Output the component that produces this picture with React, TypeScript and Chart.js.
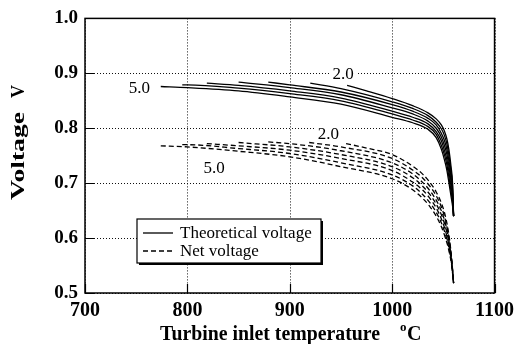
import React, { useEffect, useRef } from "react";
import { Chart, registerables } from "chart.js";

Chart.register(...registerables);

// ---- data ----
const X_TICK_LABELS = [700, 800, 900, 1000, 1100];
const Y_TICK_LABELS = [0.5, 0.6, 0.7, 0.8, 0.9, 1.0];

const SERIES_LABELS = ["2.0", "2.5", "3.0", "3.5", "4.0", "4.5", "5.0"];

// Theoretical voltage, [temperature °C, voltage V]
const THEO_2_0 = [[956, 0.878], [975, 0.868], [1000, 0.854], [1020, 0.841], [1035, 0.828], [1043, 0.817], [1048, 0.806], [1051, 0.795], [1053.5, 0.780], [1055.5, 0.760], [1057.5, 0.730], [1059, 0.700], [1060, 0.640]];
const THEO_2_5 = [[920, 0.882], [950, 0.872], [1000, 0.848], [1020, 0.836], [1035, 0.823], [1043, 0.811], [1048, 0.799], [1051, 0.787], [1053.5, 0.771], [1055.5, 0.750], [1057.5, 0.721], [1059, 0.693], [1060, 0.640]];
const THEO_3_0 = [[879, 0.884], [900, 0.879], [950, 0.866], [1000, 0.843], [1020, 0.831], [1035, 0.818], [1043, 0.806], [1048, 0.791], [1051, 0.778], [1053.5, 0.761], [1055.5, 0.740], [1057.5, 0.712], [1059, 0.686], [1060, 0.640]];
const THEO_3_5 = [[850, 0.884], [900, 0.874], [950, 0.861], [1000, 0.837], [1020, 0.826], [1035, 0.813], [1043, 0.800], [1048, 0.784], [1051, 0.769], [1053.5, 0.752], [1055.5, 0.730], [1057.5, 0.703], [1059, 0.679], [1060, 0.640]];
const THEO_4_0 = [[819, 0.882], [850, 0.878], [900, 0.868], [950, 0.855], [1000, 0.831], [1020, 0.820], [1035, 0.808], [1043, 0.794], [1048, 0.777], [1051, 0.760], [1053.5, 0.742], [1055.5, 0.720], [1057.5, 0.694], [1059, 0.672], [1060, 0.640]];
const THEO_4_5 = [[795, 0.879], [800, 0.879], [850, 0.873], [900, 0.863], [950, 0.850], [1000, 0.826], [1020, 0.815], [1035, 0.803], [1043, 0.789], [1048, 0.769], [1051, 0.752], [1053.5, 0.733], [1055.5, 0.710], [1057.5, 0.685], [1059, 0.665], [1060, 0.640]];
const THEO_5_0 = [[774, 0.876], [800, 0.874], [850, 0.868], [900, 0.857], [950, 0.844], [1000, 0.820], [1020, 0.810], [1035, 0.798], [1043, 0.783], [1048, 0.762], [1051, 0.743], [1053.5, 0.723], [1055.5, 0.700], [1057.5, 0.676], [1059, 0.658], [1060, 0.640]];

// Net voltage
const NET_2_0 = [[955, 0.772], [975, 0.764], [1000, 0.752], [1020, 0.731], [1030, 0.716], [1037, 0.701], [1043, 0.684], [1048, 0.664], [1051, 0.647], [1054, 0.622], [1056, 0.598], [1058, 0.565], [1060, 0.518]];
const NET_2_5 = [[919, 0.774], [950, 0.766], [1000, 0.745], [1020, 0.724], [1030, 0.709], [1037, 0.694], [1043, 0.677], [1048, 0.657], [1051, 0.640], [1054, 0.616], [1056, 0.594], [1058, 0.563], [1060, 0.518]];
const NET_3_0 = [[879, 0.775], [900, 0.772], [950, 0.759], [1000, 0.737], [1020, 0.717], [1030, 0.701], [1037, 0.686], [1043, 0.669], [1048, 0.650], [1051, 0.633], [1054, 0.611], [1056, 0.589], [1058, 0.561], [1060, 0.518]];
const NET_3_5 = [[850, 0.774], [900, 0.766], [950, 0.752], [1000, 0.730], [1020, 0.710], [1030, 0.694], [1037, 0.679], [1043, 0.662], [1048, 0.643], [1051, 0.627], [1054, 0.605], [1056, 0.585], [1058, 0.559], [1060, 0.518]];
const NET_4_0 = [[819, 0.772], [850, 0.768], [900, 0.760], [950, 0.745], [1000, 0.723], [1020, 0.702], [1030, 0.687], [1037, 0.672], [1043, 0.655], [1048, 0.635], [1051, 0.620], [1054, 0.599], [1056, 0.581], [1058, 0.556], [1060, 0.518]];
const NET_4_5 = [[795, 0.770], [800, 0.770], [850, 0.763], [900, 0.754], [950, 0.737], [1000, 0.715], [1020, 0.695], [1030, 0.679], [1037, 0.664], [1043, 0.647], [1048, 0.628], [1051, 0.613], [1054, 0.594], [1056, 0.576], [1058, 0.554], [1060, 0.518]];
const NET_5_0 = [[774, 0.768], [800, 0.766], [850, 0.758], [900, 0.748], [950, 0.730], [1000, 0.708], [1020, 0.688], [1030, 0.672], [1037, 0.657], [1043, 0.640], [1048, 0.621], [1051, 0.606], [1054, 0.588], [1056, 0.572], [1058, 0.552], [1060, 0.518]];

const THEO_SERIES = [THEO_2_0, THEO_2_5, THEO_3_0, THEO_3_5, THEO_4_0, THEO_4_5, THEO_5_0];
const NET_SERIES = [NET_2_0, NET_2_5, NET_3_0, NET_3_5, NET_4_0, NET_4_5, NET_5_0];

// in-plot curve labels at data coordinates
const CURVE_LABELS = [
  { text: "5.0", x: 753, y: 0.8745 },
  { text: "2.0", x: 952, y: 0.9 },
  { text: "2.0", x: 937.6, y: 0.791 },
  { text: "5.0", x: 826, y: 0.729 },
];

const LEGEND_ITEMS = [
  { text: "Theoretical voltage", dashed: false },
  { text: "Net voltage", dashed: true },
];

const X_TITLE = "Turbine inlet temperature";
const X_TITLE_UNIT = "C";
const Y_TITLE_WORD = "Voltage";
const Y_TITLE_UNIT = "V";

const SERIF = '"Liberation Serif", "DejaVu Serif", serif';
const DASH = [5, 3];

const gridPlugin = {
  id: "dotgrid",
  beforeDatasetsDraw(chart: any) {
    const { ctx, chartArea: a, scales } = chart;
    ctx.save();
    ctx.strokeStyle = "#111";
    ctx.lineWidth = 1;
    ctx.setLineDash([1, 2]);
    ctx.beginPath();
    X_TICK_LABELS.forEach((v) => {
      const px = Math.round(scales.x.getPixelForValue(v)) + 0.5;
      ctx.moveTo(px, a.top);
      ctx.lineTo(px, a.bottom);
    });
    Y_TICK_LABELS.forEach((v) => {
      const py = Math.round(scales.y.getPixelForValue(v)) + 0.5;
      ctx.moveTo(a.left, py);
      ctx.lineTo(a.right, py);
    });
    ctx.stroke();
    ctx.restore();
  },
};

const decorPlugin = {
  id: "decor",
  afterDraw(chart: any) {
    const { ctx, chartArea: a, scales } = chart;
    const xs = scales.x;
    const ys = scales.y;
    ctx.save();

    // frame
    ctx.strokeStyle = "#000";
    ctx.lineWidth = 1.5;
    ctx.setLineDash([]);
    ctx.strokeRect(a.left, a.top, a.right - a.left, a.bottom - a.top);

    // inward tick marks
    ctx.lineWidth = 1.2;
    ctx.beginPath();
    X_TICK_LABELS.forEach((v) => {
      const px = Math.round(xs.getPixelForValue(v)) + 0.5;
      ctx.moveTo(px, a.bottom);
      ctx.lineTo(px, a.bottom - 9);
    });
    Y_TICK_LABELS.forEach((v) => {
      const py = Math.round(ys.getPixelForValue(v)) + 0.5;
      ctx.moveTo(a.left, py);
      ctx.lineTo(a.left + 9, py);
    });
    ctx.stroke();

    // curve labels
    ctx.font = `17px ${SERIF}`;
    ctx.textAlign = "center";
    ctx.textBaseline = "middle";
    CURVE_LABELS.forEach((l) => {
      const px = xs.getPixelForValue(l.x);
      const py = ys.getPixelForValue(l.y);
      const w = ctx.measureText(l.text).width;
      ctx.fillStyle = "#fff";
      ctx.fillRect(px - w / 2 - 3, py - 7, w + 6, 14);
      ctx.fillStyle = "#000";
      ctx.fillText(l.text, px, py + 1);
    });

    // legend box
    const lx = 137, ly = 219, lw = 184, lh = 44;
    ctx.fillStyle = "#000";
    ctx.fillRect(lx + 2, ly + 2, lw, lh);
    ctx.fillStyle = "#fff";
    ctx.fillRect(lx, ly, lw, lh);
    ctx.strokeStyle = "#000";
    ctx.lineWidth = 1.2;
    ctx.strokeRect(lx, ly, lw, lh);
    ctx.font = `17px ${SERIF}`;
    ctx.textAlign = "left";
    ctx.textBaseline = "middle";
    LEGEND_ITEMS.forEach((it, i) => {
      const y = ly + 14 + i * 18;
      ctx.setLineDash(it.dashed ? DASH : []);
      ctx.lineWidth = 1.3;
      ctx.beginPath();
      ctx.moveTo(lx + 6, y);
      ctx.lineTo(lx + 36, y);
      ctx.stroke();
      ctx.setLineDash([]);
      ctx.fillStyle = "#000";
      ctx.fillText(it.text, lx + 43, y + 1);
    });

    // x axis title
    ctx.fillStyle = "#000";
    ctx.font = `bold 20px ${SERIF}`;
    ctx.textAlign = "left";
    ctx.textBaseline = "alphabetic";
    const tx = 160, ty = 340;
    const tw = ctx.measureText(X_TITLE).width;
    ctx.save();
    ctx.translate(tx, ty);
    ctx.scale(220 / tw, 1);
    ctx.fillText(X_TITLE, 0, 0);
    ctx.restore();
    ctx.font = `bold 13px ${SERIF}`;
    ctx.fillText("o", 400, ty - 9);
    ctx.font = `bold 20px ${SERIF}`;
    ctx.fillText(X_TITLE_UNIT, 407, ty);

    // y axis title (rotated)
    ctx.save();
    ctx.translate(24, 200);
    ctx.rotate(-Math.PI / 2);
    ctx.font = `bold 18px ${SERIF}`;
    ctx.textAlign = "left";
    ctx.textBaseline = "alphabetic";
    const ww = ctx.measureText(Y_TITLE_WORD).width;
    ctx.save();
    ctx.scale(88 / ww, 1);
    ctx.fillText(Y_TITLE_WORD, 0, 0);
    ctx.restore();
    ctx.fillText(Y_TITLE_UNIT, 102, 0);
    ctx.restore();

    ctx.restore();
  },
};

export default function App() {
  const ref = useRef<HTMLCanvasElement>(null);
  useEffect(() => {
    document.body.style.margin = "0";
    const datasets: any[] = [];
    THEO_SERIES.forEach((s, i) => {
      datasets.push({
        label: "Theoretical " + SERIES_LABELS[i],
        data: s.map(([x, y]) => ({ x, y })),
        borderColor: "#000",
        borderWidth: 1.3,
        pointRadius: 0,
        fill: false,
        cubicInterpolationMode: "monotone",
      });
    });
    NET_SERIES.forEach((s, i) => {
      datasets.push({
        label: "Net " + SERIES_LABELS[i],
        data: s.map(([x, y]) => ({ x, y })),
        borderColor: "#000",
        borderWidth: 1.3,
        borderDash: DASH,
        pointRadius: 0,
        fill: false,
        cubicInterpolationMode: "monotone",
      });
    });
    const chart = new Chart(ref.current!, {
      type: "line",
      data: { datasets },
      options: {
        animation: false,
        responsive: false,
        devicePixelRatio: 1,
        layout: { padding: { top: 18, right: 22.5, left: 0, bottom: 0 } },
        plugins: { legend: { display: false }, tooltip: { enabled: false } },
        scales: {
          x: {
            type: "linear",
            min: X_TICK_LABELS[0],
            max: X_TICK_LABELS[X_TICK_LABELS.length - 1],
            afterFit: (s: any) => { s.height = 51; },
            afterBuildTicks: (s: any) => { s.ticks = X_TICK_LABELS.map((v) => ({ value: v })); },
            ticks: {
              color: "#000",
              font: { family: SERIF, size: 20, weight: "bold" },
              padding: 6,
              maxRotation: 0,
              autoSkip: false,
              callback: (v: any) => String(v),
            },
            grid: { display: false, drawTicks: false },
            border: { display: false },
          },
          y: {
            type: "linear",
            min: Y_TICK_LABELS[0],
            max: Y_TICK_LABELS[Y_TICK_LABELS.length - 1],
            afterFit: (s: any) => { s.width = 85; },
            afterBuildTicks: (s: any) => { s.ticks = Y_TICK_LABELS.map((v) => ({ value: v })); },
            ticks: {
              color: "#000",
              font: { family: SERIF, size: 19, weight: "bold" },
              padding: 7,
              autoSkip: false,
              callback: (v: any) => Number(v).toFixed(1),
            },
            grid: { display: false, drawTicks: false },
            border: { display: false },
          },
        },
      } as any,
      plugins: [gridPlugin, decorPlugin],
    });
    return () => chart.destroy();
  }, []);
  return <canvas ref={ref} width={520} height={344} style={{ display: "block" }} />;
}
